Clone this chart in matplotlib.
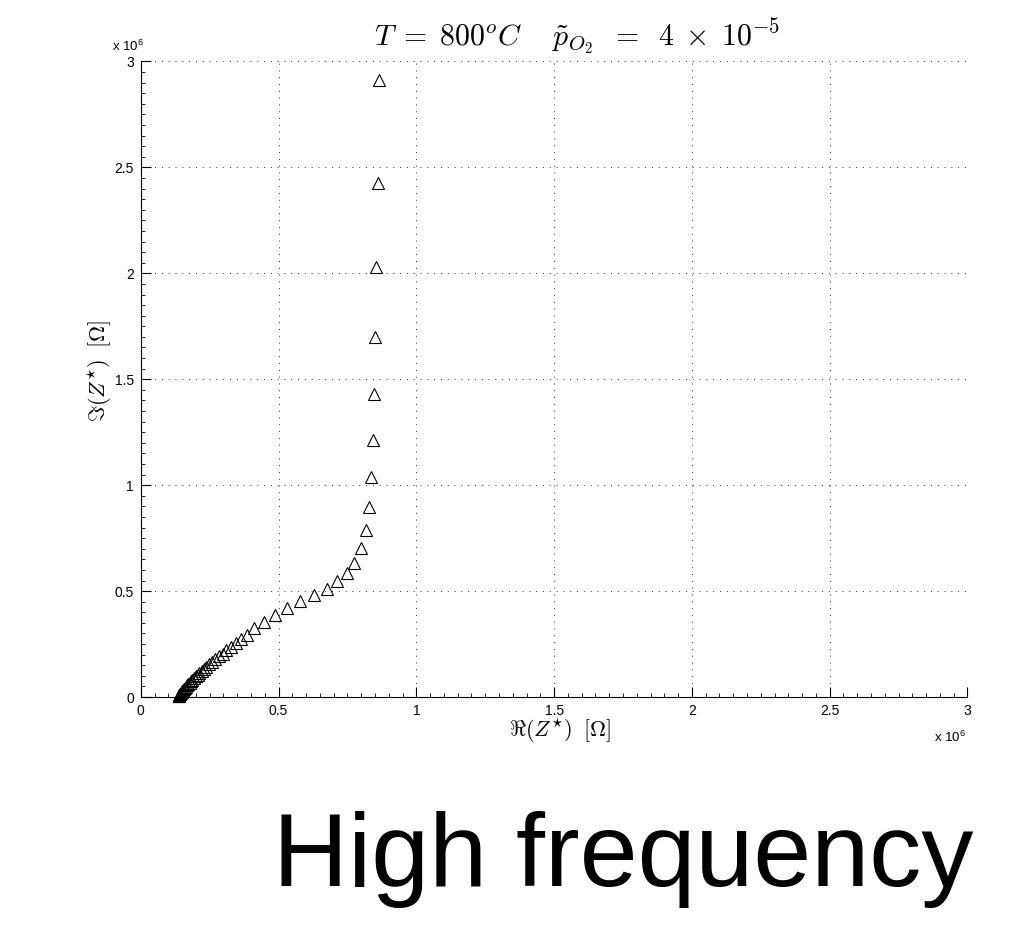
import numpy as np
import matplotlib
matplotlib.use('Agg')
import matplotlib.pyplot as plt
from matplotlib.ticker import MultipleLocator, FuncFormatter

plt.rcParams['font.family'] = 'Liberation Sans'
plt.rcParams['mathtext.fontset'] = 'cm'

# impedance data, in units of 1e6 Ohm
re_z = [0.137, 0.138, 0.139, 0.140, 0.142, 0.144, 0.146, 0.148, 0.151, 0.154,
        0.157, 0.160, 0.164, 0.168, 0.172, 0.177, 0.182, 0.187, 0.193, 0.199,
        0.206, 0.213, 0.221, 0.229, 0.238, 0.248, 0.259, 0.271, 0.283, 0.297,
        0.311, 0.327, 0.344, 0.363, 0.386, 0.412, 0.447, 0.487, 0.531, 0.579,
        0.628, 0.675, 0.713, 0.747, 0.775, 0.799, 0.816, 0.828, 0.834, 0.842,
        0.847, 0.850, 0.855, 0.860, 0.8645]
im_z = [0.003, 0.005, 0.007, 0.010, 0.013, 0.016, 0.020, 0.024, 0.028, 0.033,
        0.038, 0.043, 0.049, 0.055, 0.061, 0.068, 0.075, 0.082, 0.090, 0.098,
        0.106, 0.115, 0.124, 0.133, 0.143, 0.154, 0.166, 0.179, 0.193, 0.205,
        0.221, 0.237, 0.253, 0.272, 0.295, 0.326, 0.353, 0.386, 0.418, 0.453,
        0.481, 0.512, 0.547, 0.586, 0.633, 0.703, 0.788, 0.898, 1.038, 1.213,
        1.430, 1.701, 2.029, 2.428, 2.914]

scale = 1e6
x = np.array(re_z) * scale
y = np.array(im_z) * scale

fig = plt.figure(figsize=(10.13, 9.36), dpi=100)
ax = fig.add_axes([0.139, 0.2553, 0.816, 0.679])

ax.plot(x, y, linestyle='none', marker='^', markersize=8,
        markerfacecolor='none', markeredgecolor='black', markeredgewidth=0.8,
        clip_on=False)

ax.set_xlim(0, 3e6)
ax.set_ylim(0, 3e6)
for a in (ax.xaxis, ax.yaxis):
    a.set_major_locator(MultipleLocator(0.5e6))
    a.set_minor_locator(MultipleLocator(0.05e6))
    a.set_major_formatter(FuncFormatter(lambda v, p: f'{v / scale:g}'))

ax.grid(True, which='major', color='0.2', linestyle=(0, (1, 6)), linewidth=0.7)
ax.set_axisbelow(True)

for s in ('top', 'right'):
    ax.spines[s].set_visible(False)
for s in ('left', 'bottom'):
    ax.spines[s].set_linewidth(0.8)

ax.tick_params(which='both', direction='in', top=False, right=False,
               labelsize=10)
ax.tick_params(which='major', length=7, width=0.8, pad=5)
ax.tick_params(which='minor', length=3, width=0.6)

ax.set_xlabel(r'$\Re(Z^{\star})\;\;[\Omega]$', fontsize=16, va='center')
ax.xaxis.set_label_coords(0.507, -0.0535)
ax.set_ylabel(r'$\Im(Z^{\star})\;\;[\Omega]$', fontsize=16, va='center')
ax.yaxis.set_label_coords(-0.049, 0.513)
ax.set_title(r'$T\;=\;800^oC\quad\;\tilde{p}_{O_2}\;\;=\;\;4\;\times\;10^{-5}$',
             fontsize=21.5, pad=12, x=0.528)

ax.text(-0.035, 1.012, r'$\mathregular{x\ 10^6}$', transform=ax.transAxes,
        fontsize=9.5, ha='left', va='bottom')
ax.text(0.998, -0.052, r'$\mathregular{x\ 10^6}$', transform=ax.transAxes,
        fontsize=9.5, ha='right', va='top')

fig.text(0.615, 0.082, 'High frequency', fontsize=75, ha='center',
         va='center')

fig.savefig('out.png', dpi=100)
